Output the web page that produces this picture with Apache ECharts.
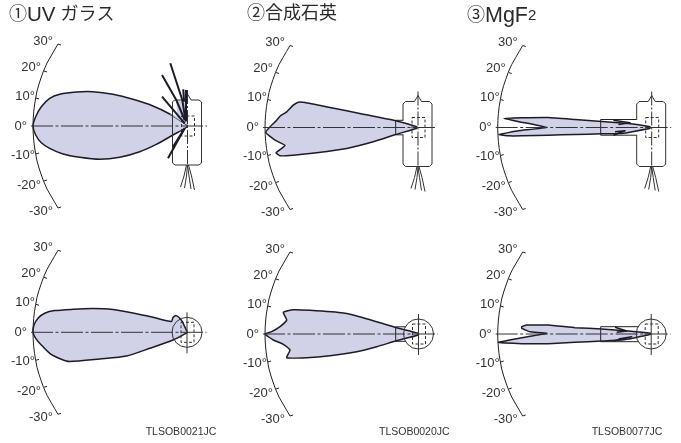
<!DOCTYPE html>
<html><head><meta charset="utf-8">
<style>html,body{margin:0;padding:0;background:#fff}#c{width:681px;height:443px}</style>
<script src="https://cdn.jsdelivr.net/npm/echarts@6/dist/echarts.min.js"></script></head>
<body><div id="c"></div>
<script>
// ---- values: [distance along axis, vertical offset] ----
const titles = ['①{l|UV} ガラス', '②合成石英', '③{m|MgF}{s|2}'];
const codes = ['TLSOB0021JC', 'TLSOB0020JC', 'TLSOB0077JC'];
const angleTicks = ['30°', '20°', '10°', '0°', '-10°', '-20°', '-30°'];
const angleLabelAt = [[20,85],[8,59],[2,30],[-6,0],[2,-29],[8,-59],[20,-85]];
const angleMarkAt = [[25,82],[11,55],[3,28],[0,0],[3,-28],[11,-55],[25,-82]];
const arcLine = [[25,82],[21.5,76],[18,70],[14,63],[10.5,55],[8,48],[6,42],[4,35],[2.7,28],[1.5,21],[0.7,14],[0.2,7],[0,0],[0.2,-7],[0.7,-14],[1.5,-21],[2.7,-28],[4,-35],[6,-42],[8,-48],[10.5,-55],[14,-63],[18,-70],[21.5,-76],[25,-82]];

const lobeUvTop = [[0,0],[2.7,9.3],[8.3,19.3],[16.7,27.7],[26.7,31.7],[43.3,34],[60,34.3],[80,31.7],[100,26.7],[120,20],[136.7,12],[154,1],[154,-1],[140,-9],[123.3,-18.3],[106.7,-25.7],[86.7,-31.3],[66.7,-33.3],[46.7,-31.3],[30,-28],[16.7,-22.3],[8.3,-16.7],[2.7,-9]];
const uvTopPatch = [[136.7,12],[144,10],[143.3,26],[151,24.3],[151.5,36],[154,1]];
const uvTopSpikes = [
  [[137.3,62.7],[149.3,26],[152.7,4.3]],
  [[129,51],[143.3,26],[151.7,6]],
  [[129,29.3],[151.7,2.7]],
  [[135,-32.3],[151.7,-2.3]],
  [[140,-20.7],[151.7,-2.3]],
  [[150.3,36.7],[151,24.3]],
  [[153,36],[153,5]]
];
const lobeQuartzTop = [[0.7,-5],[5,0.7],[11.7,7.3],[15,11.3],[21.7,15.7],[28.3,22.3],[33.3,25.3],[40,25],[65,20],[98.3,13.3],[130.7,6.7],[151.7,0.7],[151.7,-0.7],[130.7,-7],[108.3,-14.3],[81.7,-21],[51.7,-25.3],[28.3,-27.7],[15,-28.3],[11,-25.3],[20,-18],[10,-12.7]];
const lobeMgTop = [[6.3,9],[24,9.7],[50.7,10],[77.3,8],[104,6],[130.7,4],[144,2.3],[152.3,0.7],[152.3,-0.7],[137.3,-3.7],[124,-6],[104,-6.3],[77.3,-7],[50.7,-7.7],[24,-8.3],[10.7,-8.3],[1.3,-7],[20.7,-3.3],[49,0],[24,5.3]];
const mgTopSpikes = [[[115.7,7.3],[132.3,4.7],[120.7,3]],[[115.7,-7.7],[127.3,-3.3],[117.3,-4.3]]];
const lobeUvBottom = [[0,0],[1,7.3],[5,14],[11.7,19],[21.7,21.7],[40,23],[60,23.7],[80,22.7],[100,19.3],[120,15],[138.3,10.7],[140,14.7],[143.3,16.7],[148.3,12.3],[151.7,5.7],[154,0.7],[154,-0.3],[140,-7.7],[116.7,-16],[93.3,-23.7],[66.7,-26.7],[36.7,-29.3],[28.3,-27],[16.7,-21],[8.3,-12.7],[2.7,-6]];
const lobeQuartzBottom = [[0,0],[6.7,2.3],[15,7.3],[21.7,14],[18.3,21.7],[28.3,24.3],[45,23.7],[78.3,21],[98.3,16.3],[131.7,6.3],[153.3,0.7],[153.3,-1],[130.7,-7],[111.7,-12.7],[91.7,-17.7],[65,-21.7],[41.7,-23.7],[21.7,-23.7],[25,-16],[18.3,-10.3],[8.3,-6]];
const lobeMgBottom = [[24,7.3],[29,9],[50.7,9],[77.3,6.3],[104,5],[130.7,3],[152.7,0.7],[152.7,-0.3],[137.3,-3.7],[124,-6],[104,-7],[77.3,-8.3],[50.7,-9.7],[24,-9.7],[7.3,-9],[0.7,-8.3],[24,-3.7],[49,0.7],[32.3,2.3],[24,5.7]];
const mgBottomSpikes = [[[117.3,6.7],[129,3],[119,1.7]],[[115.7,-7],[134,-2.7],[120.7,-5]]];

// lamp parts, relative to the lamp centre
const bodyClosed = [[-13,26],[-3.5,26],[0,32],[3.5,26],[11.5,26],[14,24],[14,-37],[11.5,-39],[-12.5,-39],[-15,-37],[-15,24]];
const bodyOpen = [[-15,7.5],[-15,23.5],[-12.5,26],[-3.5,26],[0,32],[3.5,26],[11.5,26],[14,23.5],[14,-36.5],[11.5,-39],[-12.5,-39],[-15,-36.5],[-15,-7.5]];
const dashBox = [[-6,10],[7,10],[7,-10],[-6,-10]];
const wires = [[[-1,-39],[-3.5,-50],[-7,-61]],[[0,-39],[-1,-50],[-3,-62]],[[0,-39],[1.5,-50],[3.5,-63]],[[1,-39],[4,-50],[7,-64]]];
const holderQuartzTop = [[138.5,7.2],[130.7,7.2],[130.7,-7.3],[138.5,-7.3]];
const holderQuartzBottom = [[141,7.2],[130.7,7.2],[130.7,-7.3],[141,-7.3]];
const holderMg = [[139,8],[103,8],[103,-7.7],[139,-7.7]];
const holderMgBottom = [[141,7.3],[103,7.3],[103,-7.7],[141,-7.7]];

// ---- layout ----
const panels = [
  {x0:33,   y0:126,   lamp:154.5, lobe:lobeUvTop, view:'side', smooth:.3, body:bodyClosed, spikes:uvTopSpikes, patch:uvTopPatch},
  {x0:265,  y0:127.5, lamp:153,   lobe:lobeQuartzTop, view:'side', smooth:.12, body:bodyOpen, holder:holderQuartzTop},
  {x0:497.7,y0:127.5, lamp:154,   lobe:lobeMgTop, view:'side', smooth:.08, body:bodyOpen, holder:holderMg, spikes:mgTopSpikes},
  {x0:33,   y0:332.3, lamp:154,   lobe:lobeUvBottom, view:'end', smooth:.25},
  {x0:265,  y0:334,   lamp:153.5, lobe:lobeQuartzBottom, view:'end', smooth:.15, holder:holderQuartzBottom},
  {x0:497.7,y0:334,   lamp:153.5, lobe:lobeMgBottom, view:'end', smooth:.08, holder:holderMgBottom, spikes:mgBottomSpikes}
];
const INK = '#1c1c28', GREY = '#333', FILL = '#d1d1e8';
const PAD = {l:30, r:180, v:95};

const grid=[], xAxis=[], yAxis=[], series=[];
function poly(g, pts, o){
  series.push({type:'custom', xAxisIndex:g, yAxisIndex:g, silent:true, z:o.z||2, clip:false,
    data:pts, encode:{x:0,y:1},
    renderItem(p, api){
      if(p.dataIndex!==0) return null;
      const P = pts.map(q=>api.coord(q));
      return {type:o.close?'polygon':'polyline',
        shape:{points:P, smooth:o.smooth||0},
        style:{fill:o.fill||'none', stroke:o.stroke===undefined?INK:o.stroke, lineWidth:o.w||1, lineDash:o.dash||null, lineJoin:'round'}};
    }});
}
function circle(g, c, r, z){
  series.push({type:'custom', xAxisIndex:g, yAxisIndex:g, silent:true, z:z, clip:false, data:[c], encode:{x:0,y:1},
    renderItem(p, api){
      const C=api.coord(c), R=api.size([r,0])[0];
      return {type:'circle', shape:{cx:C[0],cy:C[1],r:R}, style:{fill:'none',stroke:GREY,lineWidth:1}};
    }});
}
panels.forEach((p,g)=>{
  grid.push({left:p.x0-PAD.l, top:p.y0-PAD.v, width:PAD.l+PAD.r, height:2*PAD.v});
  xAxis.push({type:'value', gridIndex:g, min:-PAD.l, max:PAD.r, show:false});
  yAxis.push({type:'value', gridIndex:g, min:-PAD.v, max:PAD.v, show:false});
  const at = a=>a.map(q=>[q[0]+p.lamp,q[1]]);
  poly(g,p.lobe,{close:true,fill:FILL,stroke:INK,w:1.5,smooth:p.smooth,z:2});
  if(p.patch) poly(g,p.patch,{close:true,fill:FILL,stroke:'none',z:2});
  poly(g,arcLine,{w:1,stroke:'#222',z:4});
  angleMarkAt.forEach((m,i)=>{ if(i!==3) poly(g,[m,[m[0]+3,m[1]+(m[1]>0?-1:1)]],{w:1,stroke:'#222',z:4}); });
  poly(g,[[-2,0],[p.lamp+19.5,0]],{w:1,dash:[22,2.5,3,2.5],stroke:'#333',z:5});
  if(p.holder) poly(g,p.holder,{w:1,stroke:'#222',z:4});
  if(p.view==='side'){
    poly(g,at(p.body),{close:p.body===bodyClosed,w:1,stroke:GREY,z:4});
    poly(g,at([[0,36],[0,-39]]),{w:1,dash:[14,2,2,2],stroke:GREY,z:4});
    wires.forEach(w=>poly(g,at(w),{w:1,stroke:GREY,z:4}));
  } else {
    circle(g,[p.lamp,0],15,4);
    poly(g,at([[0,20],[0,-21]]),{w:1,stroke:GREY,z:4});
  }
  poly(g,at(dashBox),{close:true,w:1,dash:[3,2],stroke:GREY,z:4});
  (p.spikes||[]).forEach(s=>poly(g,s,{w:g===0?2:1.6,z:6}));
  series.push({type:'custom', xAxisIndex:g, yAxisIndex:g, silent:true, z:7, clip:false,
    data:angleLabelAt.map((q,i)=>[q[0],q[1],i]), encode:{x:0,y:1},
    renderItem(_, api){
      const c=api.coord([api.value(0),api.value(1)]);
      return {type:'text', x:c[0], y:c[1], style:{text:angleTicks[_.dataIndex], x:0, y:0, align:'right', textAlign:'right', verticalAlign:'middle', textVerticalAlign:'middle',
        fontSize:13, fontFamily:'"Liberation Sans",Arial,sans-serif', fill:'#333'}};
    }});
});
const titleX=[9,247,467], codeX=[145.7,379,591.7];
const FONT='"Liberation Sans","Noto Sans CJK JP",sans-serif';
const graphic=[];
const rich={l:{fontSize:20.5,fontFamily:FONT,fill:'#2a2a2a'},m:{fontSize:21.5,fontFamily:FONT,fill:'#2a2a2a'},s:{fontSize:15,fontFamily:FONT,fill:'#2a2a2a'}};
titles.forEach((t,i)=>graphic.push({type:'text',left:titleX[i],top:5,style:{text:t,fontSize:18,fontFamily:FONT,fill:'#2a2a2a',rich}}));
codes.forEach((t,i)=>graphic.push({type:'text',left:codeX[i],top:427,style:{text:t,fontSize:10.5,fontFamily:FONT,fill:'#333'}}));
const chart=echarts.init(document.getElementById('c'),null,{renderer:'canvas'});
chart.setOption({animation:false,backgroundColor:'#fff',grid,xAxis,yAxis,series,graphic});
</script></body></html>
